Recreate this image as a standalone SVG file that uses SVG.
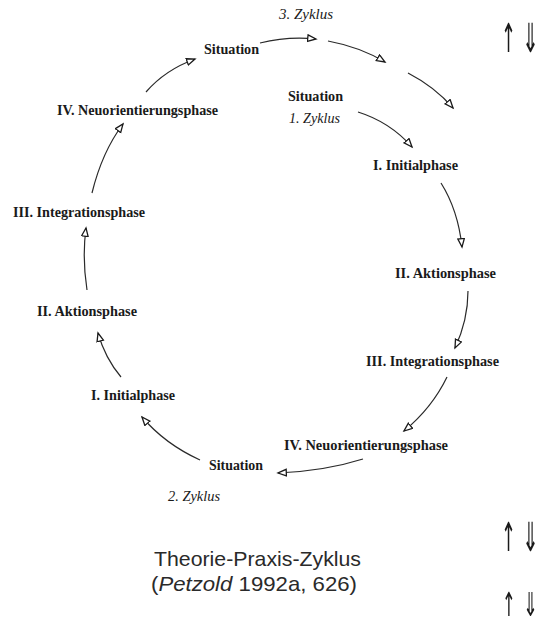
<svg xmlns="http://www.w3.org/2000/svg" width="551" height="626" viewBox="0 0 551 626">
<style>
.lb{font-family:"Liberation Serif",serif;font-size:14px;font-weight:bold;fill:#1a1a1a}
.it{font-family:"Liberation Serif",serif;font-size:14px;font-style:italic;fill:#1a1a1a}
.ti{font-family:"Liberation Sans",sans-serif;font-size:21px;fill:#2a2a2a}
.ar{font-family:"DejaVu Sans",sans-serif;font-size:40px;fill:#1a1a1a}
.ar2{font-family:"DejaVu Sans",sans-serif;font-size:33px;fill:#1a1a1a}
.cn path{fill:none;stroke:#2a2a2a;stroke-width:1.2}
</style>
<defs>
<marker id="ah" markerUnits="userSpaceOnUse" markerWidth="12" markerHeight="10" refX="9" refY="4" orient="auto">
<path d="M0.7,0.7 L9,4 L0.7,7.3 z" fill="#fff" stroke="#1a1a1a" stroke-width="1.3"/>
</marker>
</defs>
<rect width="551" height="626" fill="#fff"/>
<g class="cn" id="connectors">
<path d="M260,43 Q288,36 316,39" marker-end="url(#ah)"/>
<path d="M328,41 Q360,47 385,62" marker-end="url(#ah)"/>
<path d="M408,73 Q435,87 453,108" marker-end="url(#ah)"/>
<path d="M358,112 Q390,122 412,147" marker-end="url(#ah)"/>
<path d="M441,183 Q458,210 462,247" marker-end="url(#ah)"/>
<path d="M468,291 Q468,320 455,348" marker-end="url(#ah)"/>
<path d="M447,377 Q432,408 404,431" marker-end="url(#ah)"/>
<path d="M363,459 Q325,471 278,473" marker-end="url(#ah)"/>
<path d="M200,460 Q165,444 142,417" marker-end="url(#ah)"/>
<path d="M121,377 Q105,358 98,333" marker-end="url(#ah)"/>
<path d="M87,290 Q82,258 86,228" marker-end="url(#ah)"/>
<path d="M92,193 Q102,152 123,124" marker-end="url(#ah)"/>
<path d="M146,92 Q165,70 195,59" marker-end="url(#ah)"/>
</g>
<g id="zyklus3"><text class="it" x="279" y="19" textLength="54" lengthAdjust="spacingAndGlyphs">3. Zyklus</text></g>
<g id="situation-top"><text class="lb" x="204" y="54" textLength="55" lengthAdjust="spacingAndGlyphs">Situation</text></g>
<g id="neu-left"><text class="lb" x="57" y="115" textLength="161" lengthAdjust="spacingAndGlyphs">IV. Neuorientierungsphase</text></g>
<g id="int-left"><text class="lb" x="13" y="217" textLength="132" lengthAdjust="spacingAndGlyphs">III. Integrationsphase</text></g>
<g id="akt-left"><text class="lb" x="37" y="316" textLength="100" lengthAdjust="spacingAndGlyphs">II. Aktionsphase</text></g>
<g id="init-left"><text class="lb" x="91" y="400" textLength="84" lengthAdjust="spacingAndGlyphs">I. Initialphase</text></g>
<g id="situation-bottom"><text class="lb" x="209" y="470" textLength="54" lengthAdjust="spacingAndGlyphs">Situation</text></g>
<g id="zyklus2"><text class="it" x="168" y="501" textLength="52" lengthAdjust="spacingAndGlyphs">2. Zyklus</text></g>
<g id="situation-inner"><text class="lb" x="288" y="101" textLength="55" lengthAdjust="spacingAndGlyphs">Situation</text></g>
<g id="zyklus1"><text class="it" x="289" y="123" textLength="51" lengthAdjust="spacingAndGlyphs">1. Zyklus</text></g>
<g id="init-right"><text class="lb" x="373" y="170" textLength="85" lengthAdjust="spacingAndGlyphs">I. Initialphase</text></g>
<g id="akt-right"><text class="lb" x="395" y="278" textLength="101" lengthAdjust="spacingAndGlyphs">II. Aktionsphase</text></g>
<g id="int-right"><text class="lb" x="366" y="366" textLength="133" lengthAdjust="spacingAndGlyphs">III. Integrationsphase</text></g>
<g id="neu-right"><text class="lb" x="284" y="450" textLength="164" lengthAdjust="spacingAndGlyphs">IV. Neuorientierungsphase</text></g>
<g id="title">
<text class="ti" x="154" y="566" textLength="207" lengthAdjust="spacingAndGlyphs">Theorie-Praxis-Zyklus</text>
<text class="ti" x="151" y="591" textLength="206" lengthAdjust="spacingAndGlyphs">(<tspan font-style="italic">Petzold</tspan> 1992a, 626)</text>
</g>
<g id="arrows" opacity="0.999">
<text class="ar" transform="translate(501,52) scale(0.45,1)">↑</text>
<text class="ar" transform="translate(522,52) scale(0.5,1)">⇓</text>
<text class="ar" transform="translate(501,551) scale(0.45,1)">↑</text>
<text class="ar" transform="translate(522,551) scale(0.5,1)">⇓</text>
<text class="ar2" transform="translate(502,616) scale(0.5,1)">↑</text>
<text class="ar2" transform="translate(523,616) scale(0.55,1)">⇓</text>
</g>
</svg>
